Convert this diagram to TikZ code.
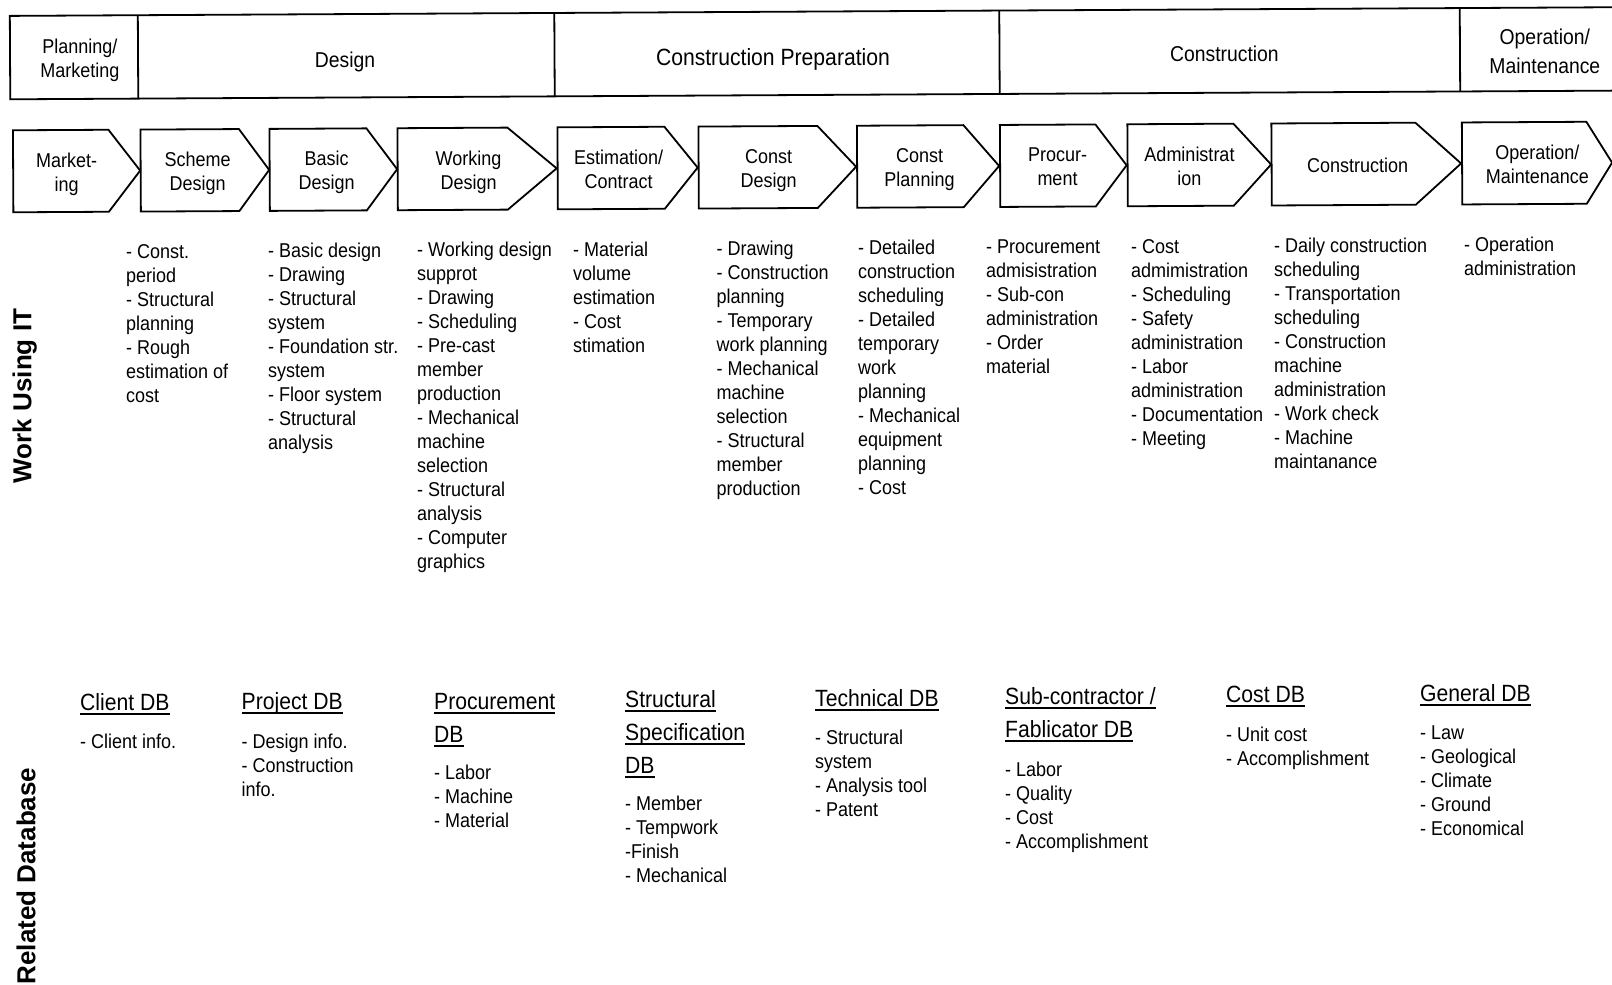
\documentclass[tikz,border=0pt]{standalone}
\usepackage{fontspec}
\setmainfont{Liberation Sans}[FakeStretch=0.9]
\newfontfamily\sidefont{Liberation Sans}
% underlined database titles
\newsavebox\ulbox
\newcommand\dbul[1]{\sbox\ulbox{#1}\rlap{\rule[-4.5pt]{\wd\ulbox}{2pt}}\usebox\ulbox}
% fixed first-line height, so that a node's top sits 0.75em above its first baseline
\newcommand\ts{\rule{0pt}{0.75em}}
\begin{document}
\begin{tikzpicture}[x=1pt,y=-1pt,
  rule/.style={line width=1.8pt},
  chev/.style={draw,line width=1.8pt,line join=miter},
  phase/.style={inner sep=0pt,anchor=north,align=center},
  stage/.style={inner sep=0pt,anchor=north,align=center,font=\fontsize{20}{24}\selectfont},
  work/.style={inner sep=0pt,anchor=north west,align=left,font=\fontsize{20}{24}\selectfont},
  dbhead/.style={inner sep=0pt,anchor=north west,align=left,font=\fontsize{23.5}{33}\selectfont},
  dbitem/.style={inner sep=0pt,anchor=north west,align=left,font=\fontsize{20}{24}\selectfont},
  side/.style={inner sep=0pt,rotate=90,font=\sidefont\bfseries\fontsize{26}{30}\selectfont}]
\useasboundingbox (0,0) rectangle (1612,985);

\begin{scope}[rotate around={0.31:(806,53)}]
  % phase bar
  \draw[rule,line join=miter] (1640,11.6) -- (10,11.6) -- (10,95) -- (1640,95);
  \foreach \x in {138,554.5,999.5,1460} \draw[rule] (\x,11.6) -- (\x,95);
  \node[phase,font=\fontsize{20}{24}\selectfont] (p1) at (80,34) {\ts Planning/\\Marketing};
  \node[phase,font=\fontsize{21.5}{26}\selectfont] (p2) at (345,48.2) {\ts Design};
  \node[phase,font=\fontsize{23.5}{28}\selectfont] (p3) at (773,47.4) {\ts Construction Preparation};
  \node[phase,font=\fontsize{21.5}{26}\selectfont] (p4) at (1224.5,47.9) {\ts Construction};
  \node[phase,font=\fontsize{21.5}{29}\selectfont] (p5) at (1545,32.4) {\ts Operation/\\Maintenance};

  % process chevrons
  \foreach \l/\r/\t in {12.5/108/139.5, 140/238.5/268.5, 269/366/396.5, 397/507/556,
      557/664/697, 698/817/855.5, 856.5/963/998.5, 999.5/1095/1126,
      1127/1233/1270.5, 1271/1415/1460.5, 1461.5/1586/1611.5}
    \draw[chev] (\l,126) -- (\r,126) -- (\t,167) -- (\r,208) -- (\l,208) -- cycle;
  \node[stage] (s1) at (66,148) {\ts Market-\\ing};
  \node[stage] (s2) at (197,148) {\ts Scheme\\Design};
  \node[stage] (s3) at (326,148) {\ts Basic\\Design};
  \node[stage] (s4) at (468,148) {\ts Working\\Design};
  \node[stage] (s5) at (618,148) {\ts Estimation/\\Contract};
  \node[stage] (s6) at (768,148) {\ts Const\\Design};
  \node[stage] (s7) at (919,148) {\ts Const\\Planning};
  \node[stage] (s8) at (1057,148) {\ts Procur-\\ment};
  \node[stage] (s9) at (1189,148) {\ts Administrat\\ion};
  \node[stage] (s10) at (1357,160) {\ts Construction};
  \node[stage] (s11) at (1537,148) {\ts Operation/\\Maintenance};
\end{scope}

% side captions
\node[side] (itlabel) at (24.7,396) {Work Using IT};
\node[side] (dblabel) at (26.2,876) {Related Database};

% work using IT, one column per stage
\node[work] (w1) at (126,243) {\ts - Const.\\period\\- Structural\\planning\\- Rough\\estimation of\\cost};
\node[work] (w2) at (268,242) {\ts - Basic design\\- Drawing\\- Structural\\system\\- Foundation str.\\system\\- Floor system\\- Structural\\analysis};
\node[work] (w3) at (417,241) {\ts - Working design\\supprot\\- Drawing\\- Scheduling\\- Pre-cast\\member\\production\\- Mechanical\\machine\\selection\\- Structural\\analysis\\- Computer\\graphics};
\node[work] (w4) at (573,241) {\ts - Material\\volume\\estimation\\- Cost\\stimation};
\node[work] (w5) at (716.5,240) {\ts - Drawing\\- Construction\\planning\\- Temporary\\work planning\\- Mechanical\\machine\\selection\\- Structural\\member\\production};
\node[work] (w6) at (858,239) {\ts - Detailed\\construction\\scheduling\\- Detailed\\temporary\\work\\planning\\- Mechanical\\equipment\\planning\\- Cost};
\node[work] (w7) at (986,238) {\ts - Procurement\\admisistration\\- Sub-con\\administration\\- Order\\material};
\node[work] (w8) at (1131,238) {\ts - Cost\\admimistration\\- Scheduling\\- Safety\\administration\\- Labor\\administration\\- Documentation\\- Meeting};
\node[work] (w9) at (1274,237) {\ts - Daily construction\\scheduling\\- Transportation\\scheduling\\- Construction\\machine\\administration\\- Work check\\- Machine\\maintanance};
\node[work] (w10) at (1464,236) {\ts - Operation\\administration};

% related databases
\node[dbhead] (d1) at (80,692.4) {\ts\dbul{Client DB}};
\node[dbitem] (d1i) at (80,733) {\ts - Client info.};
\node[dbhead] (d2) at (241.5,691.4) {\ts\dbul{Project DB}};
\node[dbitem] (d2i) at (241.5,733) {\ts - Design info.\\- Construction\\info.};
\node[dbhead] (d3) at (434,691.4) {\ts\dbul{Procurement}\\\dbul{DB}};
\node[dbitem] (d3i) at (434,764) {\ts - Labor\\- Machine\\- Material};
\node[dbhead] (d4) at (625,689.4) {\ts\dbul{Structural}\\\dbul{Specification}\\\dbul{DB}};
\node[dbitem] (d4i) at (625,795) {\ts - Member\\- Tempwork\\-Finish\\- Mechanical};
\node[dbhead] (d5) at (815,688.4) {\ts\dbul{Technical DB}};
\node[dbitem] (d5i) at (815,729) {\ts - Structural\\system\\- Analysis tool\\- Patent};
\node[dbhead] (d6) at (1005,686.4) {\ts\dbul{Sub-contractor /}\\\dbul{Fablicator DB}};
\node[dbitem] (d6i) at (1005,761) {\ts - Labor\\- Quality\\- Cost\\- Accomplishment};
\node[dbhead] (d7) at (1226,684.4) {\ts\dbul{Cost DB}};
\node[dbitem] (d7i) at (1226,726) {\ts - Unit cost\\- Accomplishment};
\node[dbhead] (d8) at (1420,683.4) {\ts\dbul{General DB}};
\node[dbitem] (d8i) at (1420,724) {\ts - Law\\- Geological\\- Climate\\- Ground\\- Economical};
\end{tikzpicture}
\end{document}
